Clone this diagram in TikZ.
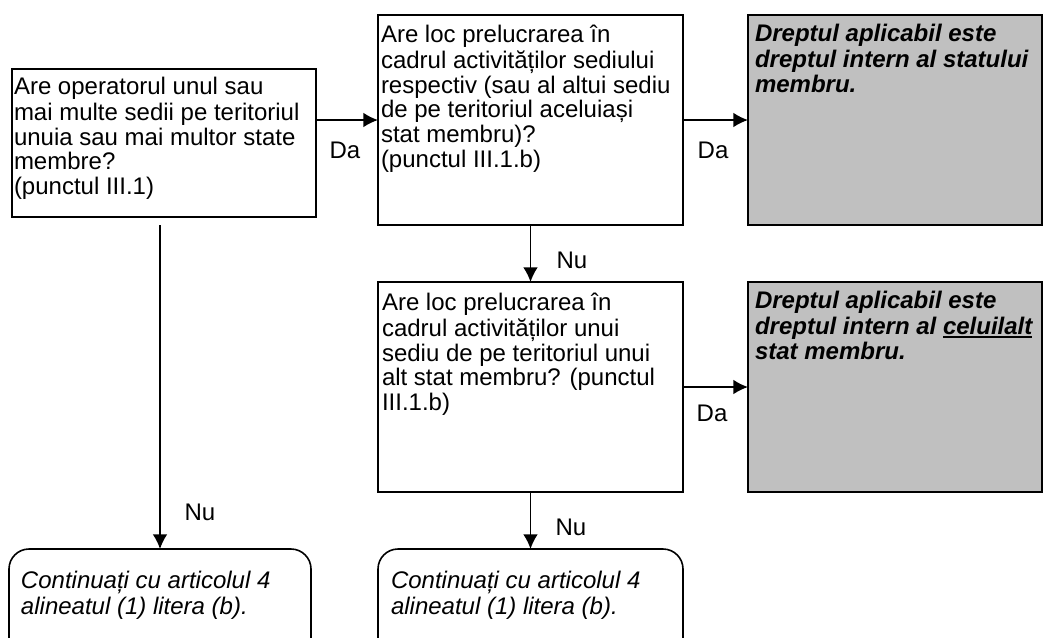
\documentclass[tikz,border=0pt]{standalone}
\usepackage{fontspec}
\setmainfont{Liberation Sans}
\usetikzlibrary{arrows.meta}
\definecolor{boxgray}{HTML}{C0C0C0}
\newcommand{\thickul}[1]{\setbox0=\hbox{#1}\rlap{\rule[-3pt]{\wd0}{1.5pt}}\box0}
\tikzset{
  box/.style={draw, line width=1.2pt, rectangle, anchor=north west, inner sep=0pt, outer sep=0pt},
  graybox/.style={box, fill=boxgray},
  endbox/.style={box, rounded corners=15pt},
  txt/.style={anchor=north west, inner sep=0pt, outer sep=0pt, align=left, font=\fontsize{18}{18.4}\selectfont},
  lbl/.style={inner sep=0pt, font=\fontsize{18}{18.4}\selectfont},
  arr/.style={line width=1.2pt, -{Latex[length=11pt,width=11pt]}}
}
\begin{document}
\begin{tikzpicture}[x=0.75pt,y=-0.75pt]
\useasboundingbox (0,0) rectangle (1044,637);
% boxes
\node[box, minimum width=228pt, minimum height=111pt] (a) at (12,69) {};
\node[box, minimum width=228.75pt, minimum height=157.5pt] (b) at (378,15) {};
\node[graybox, minimum width=220.5pt, minimum height=157.5pt] (c) at (748,15) {};
\node[box, minimum width=228.75pt, minimum height=157.5pt] (d) at (378,282) {};
\node[graybox, minimum width=220.5pt, minimum height=157.5pt] (e) at (748,282) {};
\node[endbox, minimum width=226.5pt, minimum height=97.5pt] (r1) at (9,549) {};
\node[endbox, minimum width=228.75pt, minimum height=97.5pt] (r2) at (378,549) {};
% texts
\node[txt] (at) at (14,77) {\strut Are operatorul unul sau\\mai multe sedii pe teritoriul\\unuia sau mai multor state\\membre?\\(punctul III.1)};
\node[txt] (bt) at (381,25) {\strut Are loc prelucrarea în\\cadrul activităților sediului\\respectiv (sau al altui sediu\\de pe teritoriul aceluiași\\stat membru)?\\(punctul III.1.b)};
\node[txt, font=\fontsize{18}{18.4}\selectfont\bfseries\itshape] (ct) at (755,24) {\strut Dreptul aplicabil este\\dreptul intern al statului\\membru.};
\node[txt] (dt) at (382,293) {\strut Are loc prelucrarea în\\cadrul activităților unui\\sediu de pe teritoriul unui\\alt stat membru? (punctul\\III.1.b)};
\node[txt, font=\fontsize{18}{18.4}\selectfont\bfseries\itshape] (et) at (755,291) {\strut Dreptul aplicabil este\\dreptul intern al \thickul{celuilalt}\\stat membru.};
\node[txt, font=\fontsize{18}{18.4}\selectfont\itshape] (r1t) at (21,571) {\strut Continuați cu articolul 4\\alineatul (1) litera (b).};
\node[txt, font=\fontsize{18}{18.4}\selectfont\itshape] (r2t) at (391,571) {\strut Continuați cu articolul 4\\alineatul (1) litera (b).};
% connectors
\draw[arr] (b.west -| a.east) -- (b.west);
\draw[arr] (c.west -| b.east) -- (c.west);
\draw[arr] (b.south) -- (d.north);
\draw[arr] (e.west -| d.east) -- (e.west);
\draw[arr] (a.south -| r1.north) ++(0,8) -- (r1.north);
\draw[arr] (d.south) -- (r2.north);
% labels
\node[lbl] (l1) at (345,150) {Da};
\node[lbl] (l2) at (713,150) {Da};
\node[lbl] (l3) at (572,260) {Nu};
\node[lbl] (l4) at (712,413) {Da};
\node[lbl] (l5) at (200,512) {Nu};
\node[lbl] (l6) at (571,527) {Nu};
\end{tikzpicture}
\end{document}
